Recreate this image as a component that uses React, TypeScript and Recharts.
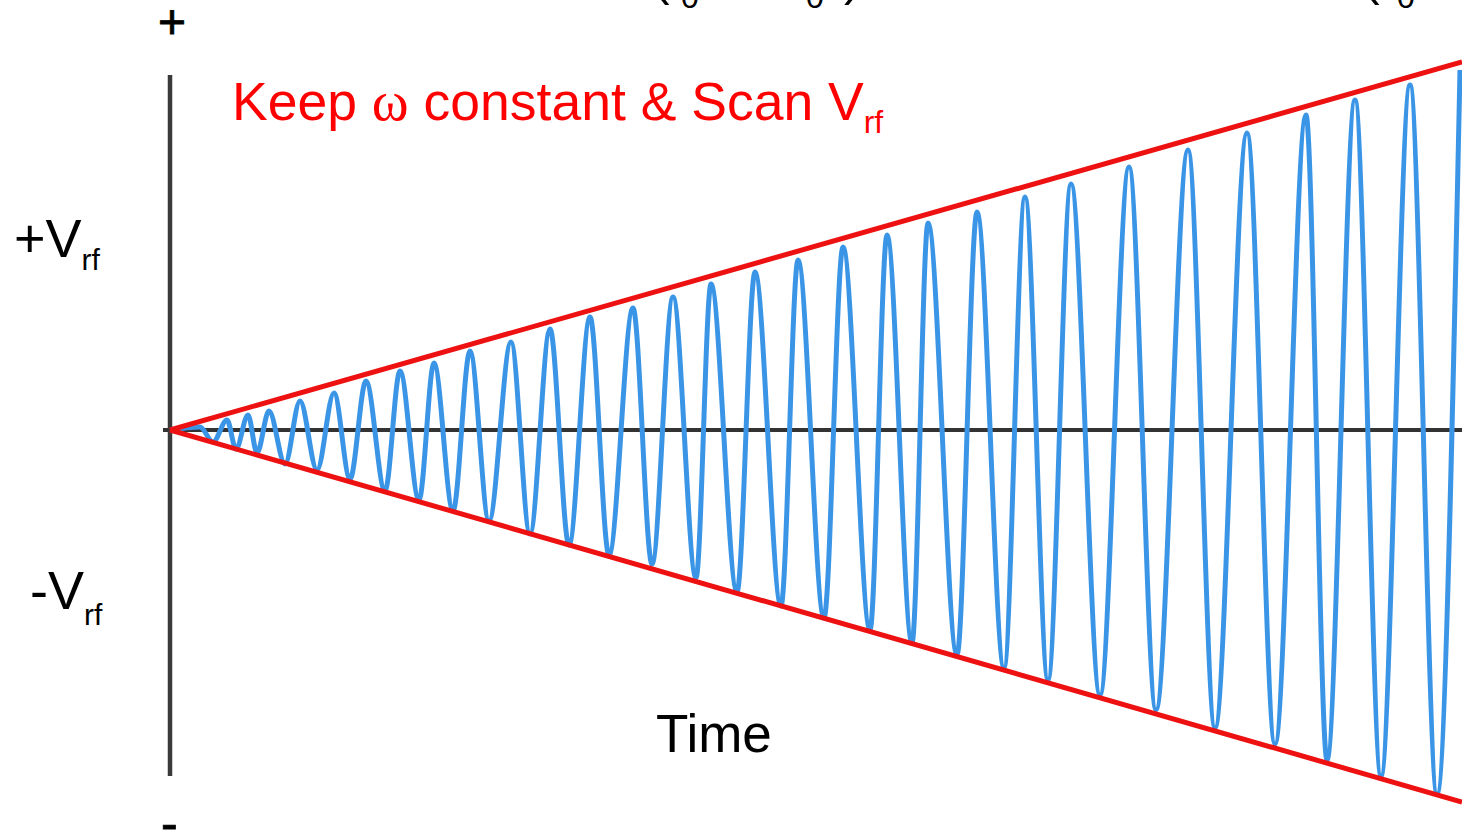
import React from 'react';
import { LineChart, Line, XAxis, YAxis, ReferenceLine } from 'recharts';

// time axis starts at the vertical axis line; values are signal amplitude (up = +)
const waveTime = [
  0, 30, 43, 57, 66, 78, 87, 99, 115, 130, 147, 164, 180, 196, 215, 230, 249, 264, 283, 300,
  319, 341, 360, 380, 399, 420, 439, 463, 482, 503, 526, 541, 567, 585, 611, 628, 654, 673,
  700, 717, 742, 758, 787, 807, 834, 855, 878, 901, 930, 959, 986, 1018, 1045, 1077, 1105,
  1136, 1157, 1185, 1211, 1240, 1267, 1290,
];
const waveValue = [
  0, 3, -12, 10, -19, 15, -23, 19, -34, 29, -40, 37, -49, 49, -61, 59, -70, 67, -81, 79,
  -91, 88, -104, 101, -115, 113, -125, 122, -134, 133, -148, 146, -162, 158, -176, 170, -188, 183,
  -200, 195, -213, 207, -225, 218, -238, 233, -250, 246, -265, 263, -280, 280, -298, 297, -314,
  315, -330, 330, -346, 345, -364, 360,
];

// Vrf envelope (start / end of the scan)
const envTime = [0, 1292];
const envUpper = [0, 368];
const envLower = [0, -372];

const timeDomain = [-170, 1292];
const ampDomain = [-403, 430];

const W = 1462;
const H = 833;

const wave = waveTime.map((t, i) => ({ t, v: waveValue[i] }));
const upper = envTime.map((t, i) => ({ t, v: envUpper[i] }));
const lower = envTime.map((t, i) => ({ t, v: envLower[i] }));

const SANS = '"Liberation Sans", Arial, sans-serif';
const SERIF = '"Liberation Serif", "Times New Roman", serif';

export default function App() {
  return (
    <div style={{ position: 'absolute', left: 0, top: 0, width: W, height: H, background: '#fff' }}>
      <LineChart width={W} height={H} margin={{ top: 0, right: 0, bottom: 0, left: 0 }}>
        <XAxis dataKey="t" type="number" domain={timeDomain} allowDataOverflow hide />
        <YAxis dataKey="v" type="number" domain={ampDomain} allowDataOverflow hide />
        <ReferenceLine
          segment={[{ x: -7, y: 0 }, { x: 1292, y: 0 }]}
          stroke="#333"
          strokeWidth={4}
        />
        <ReferenceLine
          segment={[{ x: 0, y: 355 }, { x: 0, y: -346 }]}
          stroke="#3a3a3a"
          strokeWidth={4.5}
        />
        <Line
          data={wave}
          dataKey="v"
          type="monotone"
          stroke="#3b95e6"
          strokeWidth={5}
          dot={false}
          activeDot={false}
          isAnimationActive={false}
        />
        <Line
          data={upper}
          dataKey="v"
          type="linear"
          stroke="#ee1111"
          strokeWidth={5}
          dot={false}
          activeDot={false}
          isAnimationActive={false}
        />
        <Line
          data={lower}
          dataKey="v"
          type="linear"
          stroke="#ee1111"
          strokeWidth={5}
          dot={false}
          activeDot={false}
          isAnimationActive={false}
        />
      </LineChart>

      <svg
        width={W}
        height={H}
        style={{ position: 'absolute', left: 0, top: 0, pointerEvents: 'none' }}
      >
        {/* bottoms of a formula line that is cut off at the top */}
        <g fontFamily={SANS} fill="#000">
          <text x={653} y={-5} fontSize={50}>(</text>
          <text x={681} y={8} fontSize={32}>0</text>
          <text x={806} y={8} fontSize={32}>0</text>
          <text x={844} y={-5} fontSize={50}>)</text>
          <text x={1363} y={-5} fontSize={50}>(</text>
          <text x={1397} y={8} fontSize={32}>0</text>
        </g>

        <text x={158} y={38} fontSize={48} fontFamily={SANS} fill="#000" stroke="#000" strokeWidth={0.8}>+</text>
        <text x={161} y={840} fontSize={50} fontFamily={SANS} fill="#000" stroke="#000" strokeWidth={0.8}>-</text>

        <text x={14} y={257} fontSize={54} fontFamily={SANS} fill="#000">
          +V
          <tspan fontSize={30} dy={13}>rf</tspan>
        </text>
        <text x={30} y={609} fontSize={54} fontFamily={SANS} fill="#000">
          -V
          <tspan fontSize={30} dy={16}>rf</tspan>
        </text>

        <text x={656} y={752} fontSize={53} fontFamily={SANS} fill="#000">Time</text>

        <text x={232} y={120} fontSize={53.5} fontFamily={SANS} fill="#ff0000">
          Keep <tspan fontFamily={SERIF} fontSize={56}>ω</tspan> constant &amp; Scan V
          <tspan fontSize={32} dy={13}>rf</tspan>
        </text>
      </svg>
    </div>
  );
}
